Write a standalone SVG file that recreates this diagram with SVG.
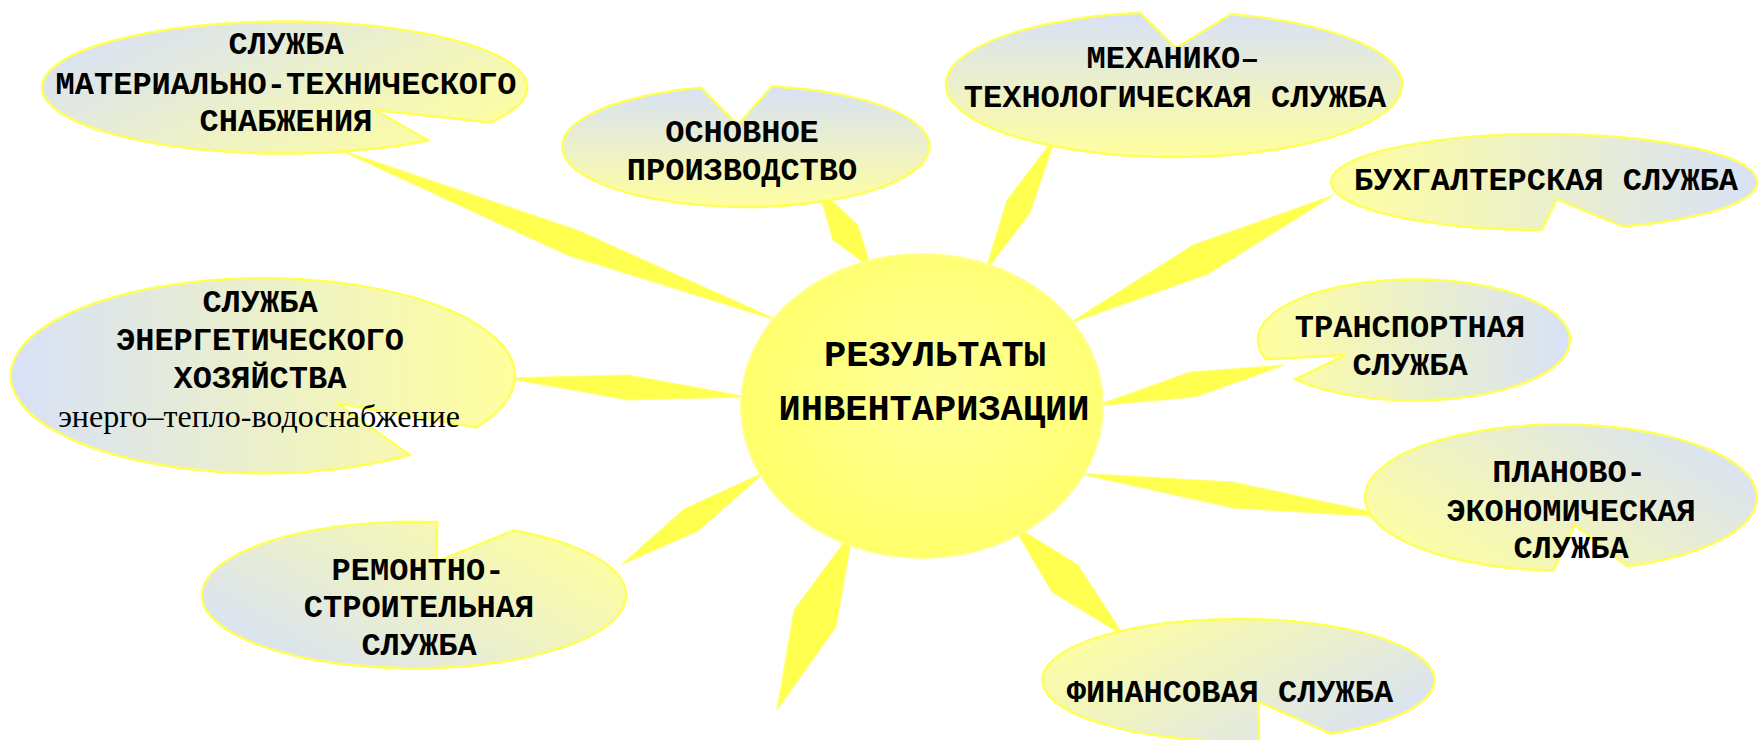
<svg xmlns="http://www.w3.org/2000/svg" width="1758" height="740" viewBox="0 0 1758 740">
<defs>
  <linearGradient id="gBY_h" x1="0" y1="0" x2="1" y2="0">
    <stop offset="0" stop-color="#d8e1f7"/><stop offset="1" stop-color="#ffff9e"/>
  </linearGradient>
  <linearGradient id="gYB_h" x1="0" y1="0" x2="1" y2="0">
    <stop offset="0" stop-color="#ffff9e"/><stop offset="1" stop-color="#d8e1f7"/>
  </linearGradient>
  <linearGradient id="gBY_v" x1="0" y1="0" x2="0" y2="1">
    <stop offset="0" stop-color="#d8e1f7"/><stop offset="1" stop-color="#ffff9e"/>
  </linearGradient>
  <linearGradient id="gBY_d" x1="0" y1="0.2" x2="1" y2="0.8">
    <stop offset="0" stop-color="#d8e1f7"/><stop offset="1" stop-color="#ffff9e"/>
  </linearGradient>
  <linearGradient id="gBY_u" x1="0" y1="0.8" x2="1" y2="0.2">
    <stop offset="0" stop-color="#d8e1f7"/><stop offset="1" stop-color="#ffff9e"/>
  </linearGradient>
  <linearGradient id="gYB_u" x1="0" y1="0.8" x2="1" y2="0.2">
    <stop offset="0" stop-color="#ffff9e"/><stop offset="1" stop-color="#d8e1f7"/>
  </linearGradient>
  <linearGradient id="gYB_d" x1="0" y1="0.2" x2="1" y2="0.8">
    <stop offset="0" stop-color="#ffff9e"/><stop offset="1" stop-color="#d8e1f7"/>
  </linearGradient>
  <radialGradient id="gSun" cx="0.55" cy="0.45" r="0.6">
    <stop offset="0" stop-color="#ffff9c"/><stop offset="1" stop-color="#ffff66"/>
  </radialGradient>
</defs>
<style>
  .bubble{stroke:#ffff59;stroke-width:2.5;stroke-linejoin:miter}
  .t{font-family:"Courier New","Nimbus Mono PS","Nimbus Mono L","FreeMono","Liberation Mono",monospace;font-weight:bold;font-size:32px;fill:#000;text-anchor:middle}
  .c{font-size:37px}
  .s{font-family:"Liberation Serif","Times New Roman",serif;font-weight:normal;font-size:32px;fill:#000;text-anchor:middle}
  .ray{fill:#ffff4f;stroke:#ffff7a;stroke-width:1;stroke-linejoin:round}
</style>
<rect width="1758" height="740" fill="#ffffff"/>

<g id="connectors">
  <polygon class="ray" points="335,148 577,230 782,322 567,255"/>
  <polygon class="ray" points="818,188 858,225 871,268 833,240"/>
  <polygon class="ray" points="1056,136 1030,213 985,272 1007,200"/>
  <polygon class="ray" points="1334,195 1208,274 1068,324 1193,245"/>
  <polygon class="ray" points="1285,365 1195,397 1095,406 1190,372"/>
  <polygon class="ray" points="1400,518 1233,508 1076,473 1233,482"/>
  <polygon class="ray" points="1012,524 1078,565 1124,636 1052,592"/>
  <polygon class="ray" points="505,378 628,375 748,397 628,400"/>
  <polygon class="ray" points="621,565 684,509 765,472 698,531"/>
  <polygon class="ray" points="777,710 794,610 853,530 836,627"/>
</g>

<g id="center">
  <ellipse cx="922" cy="406" rx="181" ry="152" fill="url(#gSun)" stroke="#ffff8c" stroke-width="2"/>
  <text class="t c" x="935" y="366">РЕЗУЛЬТАТЫ</text>
  <text class="t c" x="934" y="420">ИНВЕНТАРИЗАЦИИ</text>
</g>

<g id="node-mts">
  <path class="bubble" fill="url(#gBY_d)" d="M 490.1 122.5 A 242.5 66 0 1 0 428.4 140.6 L 375 110 Z"/>
  <text class="t" x="286" y="54">СЛУЖБА</text>
  <text class="t" x="286" y="94">МАТЕРИАЛЬНО-ТЕХНИЧЕСКОГО</text>
  <text class="t" x="286" y="131">СНАБЖЕНИЯ</text>
</g>

<g id="node-osn">
  <path class="bubble" fill="url(#gBY_v)" d="M 772 86.6 A 183.5 60.5 0 1 1 701.2 87.8 L 737.5 125 Z"/>
  <text class="t" x="742" y="142">ОСНОВНОЕ</text>
  <text class="t" x="742" y="180">ПРОИЗВОДСТВО</text>
</g>

<g id="node-meh">
  <path class="bubble" fill="url(#gBY_v)" d="M 1231 14.3 A 228 72.5 0 1 1 1140 12.8 L 1176 48 Z"/>
  <text class="t" x="1173" y="68">МЕХАНИКО–</text>
  <text class="t" x="1175" y="107">ТЕХНОЛОГИЧЕСКАЯ СЛУЖБА</text>
</g>

<g id="node-buh">
  <path class="bubble" fill="url(#gYB_h)" d="M 1623 226.6 A 213 48 0 1 0 1541.7 230 L 1557 199.3 Z"/>
  <text class="t" x="1546" y="190">БУХГАЛТЕРСКАЯ СЛУЖБА</text>
</g>

<g id="node-trans">
  <path class="bubble" fill="url(#gYB_h)" d="M 1266.1 359.3 A 156 60.5 0 1 1 1295.4 379.3 L 1345.8 355 Z"/>
  <text class="t" x="1410" y="337">ТРАНСПОРТНАЯ</text>
  <text class="t" x="1410" y="375">СЛУЖБА</text>
</g>

<g id="node-plan">
  <path class="bubble" fill="url(#gYB_u)" d="M 1627 566.2 A 196 73 0 1 0 1553.3 570.4 L 1574.6 525 Z"/>
  <text class="t" x="1569" y="482">ПЛАНОВО-</text>
  <text class="t" x="1571" y="521">ЭКОНОМИЧЕСКАЯ</text>
  <text class="t" x="1571" y="558">СЛУЖБА</text>
</g>

<g id="node-fin">
  <path class="bubble" fill="url(#gYB_d)" d="M 1331 733.7 A 196 61 0 1 0 1259 740.6 L 1258 701.7 Z"/>
  <text class="t" x="1230" y="702">ФИНАНСОВАЯ СЛУЖБА</text>
</g>

<g id="node-energ">
  <path class="bubble" fill="url(#gBY_h)" d="M 476.5 427.4 A 252 97.5 0 1 0 409.5 455 L 336.8 403.3 Z"/>
  <text class="t" x="260" y="312">СЛУЖБА</text>
  <text class="t" x="260" y="350">ЭНЕРГЕТИЧЕСКОГО</text>
  <text class="t" x="260" y="388">ХОЗЯЙСТВА</text>
  <text class="s" x="259" y="427">энерго–тепло-водоснабжение</text>
</g>

<g id="node-rem">
  <path class="bubble" fill="url(#gBY_u)" d="M 513.8 530.4 A 212 73.3 0 1 1 437 522.2 L 437 561.7 Z"/>
  <text class="t" x="418" y="580">РЕМОНТНО-</text>
  <text class="t" x="419" y="617">СТРОИТЕЛЬНАЯ</text>
  <text class="t" x="419" y="655">СЛУЖБА</text>
</g>
</svg>
